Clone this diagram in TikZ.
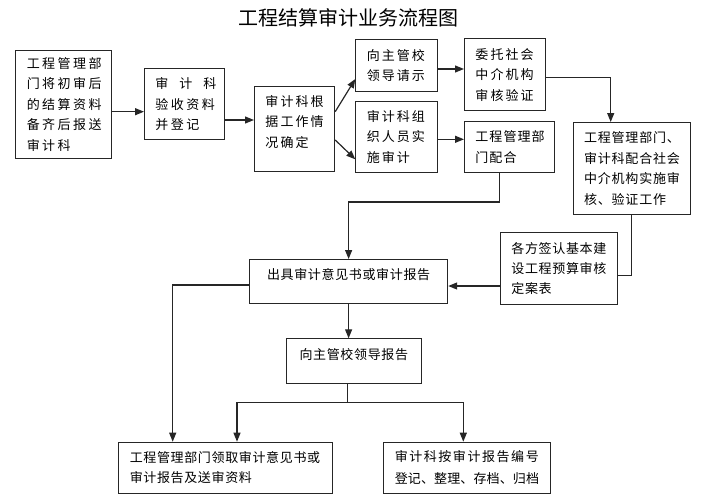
\documentclass[tikz,border=0pt]{standalone}
\usepackage{fontspec}
\setmainfont{Noto Sans CJK SC}
\newfontfamily\lsA[LetterSpace=19]{Noto Sans CJK SC}
\newfontfamily\lsB[LetterSpace=16]{Noto Sans CJK SC}
\newfontfamily\lsC[LetterSpace=8]{Noto Sans CJK SC}
\newfontfamily\lsD[LetterSpace=6]{Noto Sans CJK SC}
\newfontfamily\lsE[LetterSpace=5]{Noto Sans CJK SC}
\newfontfamily\lsF[LetterSpace=12]{Noto Sans CJK SC}
\newfontfamily\lsG[LetterSpace=1]{Noto Sans CJK SC}
\usetikzlibrary{arrows.meta,calc}
\tikzset{
  box/.style={draw=black!85, line width=0.9pt, anchor=north west, inner xsep=11pt, inner ysep=0pt, align=left},
  conn/.style={draw=black!85, line width=1.2pt},
  arr/.style={conn, -{Triangle[length=9pt,width=7pt]}},
}
\newcommand\fsz{\fontsize{13}{20.5}\selectfont}
\begin{document}
\begin{tikzpicture}[x=1pt,y=-1pt]
\useasboundingbox (0,0) rectangle (703,500);
\node[font=\fontsize{20}{24}\selectfont] (title) at (348,18) {工程结算审计业务流程图};

\node[box, minimum width=96pt, minimum height=107.4pt, text width=74pt, font=\lsA\fsz] (b1) at (15.3,50.3) {工程管理部\\门将初审后\\的结算资料\\备齐后报送\\审计科};
\node[box, minimum width=80pt, minimum height=71pt, text width=58pt, font=\lsA\fsz] (b2) at (144,68.3) {\hbox to 61pt{审\hfil 计\hfil 科}\\验收资料\\并登记};
\node[box, minimum width=80.3pt, minimum height=85pt, text width=58.3pt, text depth=56.5pt, font=\lsB\fsz] (b3) at (254,86) {审计科根\\据工作情\\况确定};
\node[box, minimum width=81.4pt, minimum height=51.4pt, text width=59.4pt, font=\lsB\fsz] (b4) at (355.3,39.3) {向主管校\\领导请示};
\node[box, minimum width=81.4pt, minimum height=71.3pt, text width=59.4pt, font=\lsB\fsz] (b5) at (355.3,100.7) {审计科组\\织人员实\\施审计};
\node[box, minimum width=80.7pt, minimum height=71.7pt, text width=58.7pt, font=\lsB\fsz] (b6) at (464,38.3) {委托社会\\中介机构\\审核验证};
\node[box, minimum width=90pt, minimum height=51.3pt, text width=68pt, font=\lsC\fsz] (b7) at (464,120.7) {工程管理部\\门配合};
\node[box, minimum width=117.3pt, minimum height=92pt, text width=95.3pt, font=\lsD\fsz] (b8) at (572.7,122) {工程管理部门、\\审计科配合社会\\中介机构实施审\\核、验证工作};
\node[box, align=center, minimum width=198.3pt, minimum height=44.3pt, text depth=15pt, font=\lsE\fsz] (b9) at (249,259) {出具审计意见书或审计报告};
\node[box, minimum width=116.7pt, minimum height=71.7pt, text width=94.7pt, font=\lsE\fontsize{13}{19.7}\selectfont] (b10) at (500,232.3) {各方签认基本建\\设工程预算审核\\定案表};
\node[box, align=center, minimum width=135.3pt, minimum height=45pt, text depth=15pt, font=\lsE\fsz] (b12) at (285.7,338.3) {向主管校领导报告};
\node[box, minimum width=213.4pt, minimum height=51pt, text width=191.4pt, font=\lsE\fontsize{13}{20}\selectfont] (b11) at (118.3,441.7) {工程管理部门领取审计意见书或\\审计报告及送审资料};
\node[box, minimum width=166.7pt, minimum height=51pt, text width=144.7pt, font=\lsF\fontsize{13}{21.6}\selectfont] (b13) at (383.3,441.7) {审计科按审计报告编号\\{\lsG 登记、整理、存档、归档}};

\draw[arr] (b1.east |- 0,111.7) -- (b2.west |- 0,111.7);
\draw[arr] (b2.east |- 0,120) -- (b3.west |- 0,120);
\draw[arr] (b3.east |- 0,111.7) -- (b4.west |- 0,79);
\draw[arr] (b3.east |- 0,140) -- (b5.west |- 0,159.3);
\draw[arr] (b4.east |- 0,69) -- (b6.west |- 0,69);
\draw[arr] (b5.east |- 0,139.3) -- (b7.west |- 0,139.3);
\draw[arr] (b6.east |- 0,77.3) -| ($(b8.north west)+(38,0)$);
\draw[arr] ($(b7.south west)+(35.3,0)$) -- ++(0,29) -| (b9.north);
\draw[conn] (b8.south) |- ($(b10.east)+(0,6.5)$);
\draw[arr] (b10.west |- 0,286) -- (b9.east |- 0,286);
\draw[arr] (b9.west |- 0,285) -| ($(b11.north west)+(54.4,0)$);
\draw[arr] (b9.south) -- (b9.south |- b12.north);
\coordinate (sp) at (347.3,402.3);
\draw[conn] (b12.south -| sp) -- (sp);
\draw[arr] (sp) -| ($(b11.north west)+(118.7,0)$);
\draw[arr] (sp) -| ($(b13.north west)+(80,0)$);
\end{tikzpicture}
\end{document}
